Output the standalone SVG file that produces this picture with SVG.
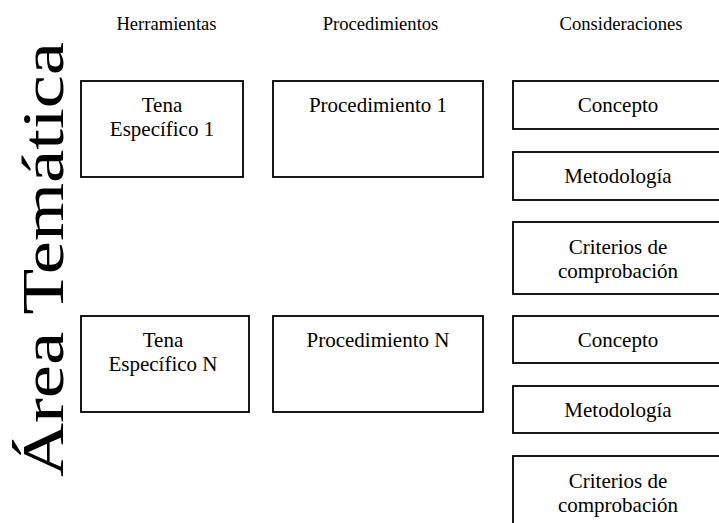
<svg xmlns="http://www.w3.org/2000/svg" width="719" height="523" viewBox="0 0 719 523">
<style>
  .box { fill: #ffffff; stroke: #000000; stroke-width: 1.8; }
  text { font-family: "Liberation Serif", "Times New Roman", serif; fill: #000000; }
  .hdr { font-size: 18.6px; text-anchor: middle; }
  .lbl { font-size: 21px; text-anchor: middle; }
  .big { font-size: 60px; }
</style>
<rect x="0" y="0" width="719" height="523" fill="#ffffff"/>
<g id="title">
  <text class="big" transform="translate(63,477) rotate(-90)" textLength="435" lengthAdjust="spacingAndGlyphs">Área Temática</text>
</g>
<g id="headers">
  <text class="hdr" x="166.5" y="30">Herramientas</text>
  <text class="hdr" x="380.5" y="30">Procedimientos</text>
  <text class="hdr" x="621" y="30">Consideraciones</text>
</g>
<g id="connectors"></g>
<g id="tema1">
  <rect class="box" x="81" y="81" width="162" height="96"/>
  <text class="lbl" x="162" y="112">Tena</text>
  <text class="lbl" x="162" y="136">Específico 1</text>
</g>
<g id="proc1">
  <rect class="box" x="273" y="81" width="210" height="96"/>
  <text class="lbl" x="378" y="112">Procedimiento 1</text>
</g>
<g id="concepto1">
  <rect class="box" x="513" y="81" width="212" height="48"/>
  <text class="lbl" x="618" y="112">Concepto</text>
</g>
<g id="metodologia1">
  <rect class="box" x="513" y="152" width="212" height="48"/>
  <text class="lbl" x="618" y="183">Metodología</text>
</g>
<g id="criterios1">
  <rect class="box" x="513" y="222" width="212" height="72"/>
  <text class="lbl" x="618" y="254">Criterios de</text>
  <text class="lbl" x="618" y="278">comprobación</text>
</g>
<g id="temaN">
  <rect class="box" x="81" y="316" width="168" height="96"/>
  <text class="lbl" x="163" y="347">Tena</text>
  <text class="lbl" x="163" y="371">Específico N</text>
</g>
<g id="procN">
  <rect class="box" x="273" y="316" width="210" height="96"/>
  <text class="lbl" x="378" y="347">Procedimiento N</text>
</g>
<g id="conceptoN">
  <rect class="box" x="513" y="316" width="212" height="47"/>
  <text class="lbl" x="618" y="347">Concepto</text>
</g>
<g id="metodologiaN">
  <rect class="box" x="513" y="386" width="212" height="47"/>
  <text class="lbl" x="618" y="417">Metodología</text>
</g>
<g id="criteriosN">
  <rect class="box" x="513" y="456" width="212" height="80"/>
  <text class="lbl" x="618" y="488">Criterios de</text>
  <text class="lbl" x="618" y="512">comprobación</text>
</g>
</svg>
